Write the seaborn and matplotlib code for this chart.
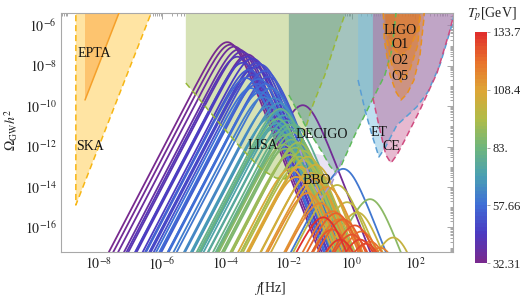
import numpy as np
import pandas as pd
import matplotlib
matplotlib.use("Agg")
import matplotlib.pyplot as plt
import seaborn as sns
from matplotlib.colors import LinearSegmentedColormap, Normalize
from matplotlib.ticker import LogLocator, NullFormatter

sns.set_theme(style="white")
plt.rcParams['font.family'] = ['Liberation Serif', 'DejaVu Serif']
plt.rcParams['mathtext.fontset'] = 'stix'

# ---------------------------------------------------------
# GW spectra: peak temperature, peak frequency, peak amplitude (log10)
# ---------------------------------------------------------
curve_tp = [33.0, 34.0, 36.0, 38.0, 35.5, 34.5,
            41.0, 42.5, 44.0, 45.5, 47.0, 48.5, 50.0, 51.5, 53.0, 54.5, 46.0, 52.0,
            49.0, 56.5, 58.0,
            56.0, 57.5, 59.0, 60.5, 62.0, 63.5, 65.0, 66.5, 60.0,
            68.0, 70.0, 72.0, 74.0, 76.0, 78.0, 69.0, 73.0, 75.0, 77.0,
            80.0, 82.0, 84.0, 86.0, 88.0, 90.0, 92.0, 94.0, 88.5,
            81.0, 85.0, 87.0, 91.0, 93.0,
            96.0, 98.0, 100.0, 102.0, 104.0, 97.0, 101.0, 99.0, 103.0, 105.0,
            106.0, 108.0, 110.0, 112.0, 114.0, 116.0, 118.0, 120.0, 117.0,
            109.0, 119.0, 121.0,
            123.0, 125.0, 127.0, 129.0, 131.0, 133.0, 126.0, 124.0, 128.0]
peak_logf = [-3.94, -3.84, -3.72, -3.58, -3.30, -1.55,
             -3.48, -3.62, -3.30, -3.14, -3.45, -3.00, -2.89, -3.25, -2.75, -3.35, -3.05, -2.64,
             -3.15, -2.95, -3.20,
             -3.00, -2.73, -2.90, -2.55, -2.80, -2.45, -2.62, -2.30, -0.27,
             -2.48, -2.22, -2.38, -2.08, -2.30, -1.98, -2.60, -2.15, -2.45, -1.85,
             -2.26, -2.35, -2.05, -1.90, -2.15, -1.78, -1.95, -1.65, 0.58,
             -2.00, -1.85, -2.10, -1.70, -1.55,
             -1.50, -0.46, -0.15, 1.31, -1.30, -1.75, 0.17, -1.40, -1.15, -1.00,
             -1.94, -1.63, -1.22, -0.78, -1.40, -1.00, -0.60, 0.58, 0.90,
             -1.75, -0.40, 0.30,
             -0.27, -0.62, 0.00, 0.26, -0.37, -0.90, 0.10, -0.50, 0.45]
peak_logom = [-6.83, -6.95, -7.05, -7.19, -7.44, -9.95,
              -7.30, -7.55, -7.55, -7.64, -7.85, -7.85, -7.94, -8.20, -8.25, -8.60, -8.05, -8.54,
              -8.45, -8.65, -9.10,
              -8.90, -8.89, -9.30, -9.10, -9.55, -9.60, -10.00, -9.85, -13.10,
              -10.35, -10.20, -10.85, -10.70, -11.30, -11.10, -10.60, -10.45, -11.10, -10.90,
              -10.13, -10.63, -11.40, -11.65, -11.90, -12.05, -12.40, -12.50, -14.60,
              -10.90, -11.30, -12.10, -11.80, -12.20,
              -12.70, -13.90, -14.75, -16.50, -13.30, -13.00, -15.25, -12.50, -12.90, -13.40,
              -13.10, -13.00, -13.60, -14.00, -14.30, -14.80, -15.20, -16.70, -17.00,
              -13.50, -15.60, -16.20,
              -15.60, -16.10, -16.35, -16.60, -16.60, -15.50, -15.90, -15.30, -16.80]

# ---------------------------------------------------------
# Detector sensitivity regions (log10 f, log10 Omega h^2)
# ---------------------------------------------------------
ska_logf = [-8.73, -8.73, -6.25]
ska_logom = [-5.0, -14.89, -5.0]
epta_logf = [-8.44, -8.44, -7.27]
epta_logom = [-5.0, -9.69, -5.0]
lisa_logf = [-5.25, -5.25, -4.33, -3.54, -2.84, -2.40, -2.11, -1.86, -1.58, -1.23, -0.85, -0.47, -0.12]
lisa_logom = [-5.0, -8.85, -10.58, -12.01, -13.15, -13.55, -13.60, -12.90, -11.67, -9.94, -8.45, -6.62, -5.0]
decigo_logf = [-1.99, -1.99, -1.48, -0.94, -0.69, -0.53, -0.34, 0.10, 0.73, 1.05, 1.27, 1.40, 1.42]
decigo_logom = [-5.0, -9.44, -10.93, -12.26, -12.96, -13.25, -12.96, -11.42, -9.44, -8.45, -7.21, -5.38, -5.0]
bbo_logf = [-1.64, -1.32, -0.97, -0.63, -0.31]
bbo_logom = [-12.16, -13.55, -14.54, -13.80, -12.66]
et_logf = [0.20, 0.20, 0.42, 0.64, 0.86, 1.05, 1.43, 1.68, 2.06, 2.41, 2.79, 3.17, 3.30]
et_logom = [-5.0, -8.70, -10.19, -11.42, -12.51, -12.07, -10.93, -10.58, -10.03, -9.29, -7.96, -5.98, -5.0]
ce_logf = [0.67, 0.67, 0.89, 1.08, 1.24, 1.43, 1.68, 2.16, 2.70, 3.11, 3.30]
ce_logom = [-5.0, -9.59, -11.17, -12.41, -12.81, -12.41, -11.67, -10.18, -8.35, -6.22, -5.0]
o5_logf = [0.99, 1.00, 1.03, 1.21, 1.40, 1.56, 1.75, 1.97, 2.16, 2.28, 2.30]
o5_logom = [-5.0, -5.4, -6.72, -8.45, -9.29, -9.69, -9.39, -8.70, -7.46, -5.73, -5.0]
o2_logf = [1.05, 1.11, 1.27, 1.56, 1.84, 2.09, 2.19]
o2_logom = [-5.0, -6.72, -7.96, -8.80, -8.20, -6.97, -5.0]
o1_logf = [1.02, 1.08, 1.30, 1.56, 1.84, 2.09, 2.22]
o1_logom = [-5.0, -6.22, -7.11, -7.51, -7.11, -6.22, -5.0]

cbar_ticks = [32.31, 57.66, 83.0, 108.4, 133.7]
cbar_labels = ["32.31", "57.66", "83.", "108.4", "133.7"]

# ---------------------------------------------------------
# build long table of spectra (sound-wave template)
# ---------------------------------------------------------
freqs = np.logspace(-10, 4, 500)
rows = []
for i, (tp, lf, lo) in enumerate(zip(curve_tp, peak_logf, peak_logom)):
    x = freqs / 10**lf
    om = 10**lo * x**3 * (7.0 / (4.0 + 3.0 * x**2))**3.5
    rows.append(pd.DataFrame({"f": freqs, "omega": om, "tp": tp, "curve": i}))
spectra = pd.concat(rows, ignore_index=True)

rainbow = LinearSegmentedColormap.from_list(
    "rainbow_m", ['#782a8f', '#4b3ac2', '#3f6fd6', '#4aa0b2', '#6fb67c',
                  '#b0bc48', '#dea636', '#e8722c', '#e0302c'], N=64)
tp_min, tp_max = 32.31, 133.7

fig = plt.figure(figsize=(5.2, 2.99), dpi=100)
ax = fig.add_axes([0.1173, 0.1582, 0.7548, 0.7973])
ax.set_xscale("log")
ax.set_yscale("log")

regions = [
    (ska_logf, ska_logom, '#ffe4a3', 1.0, '#f7b614', '--', 0),
    (epta_logf, epta_logom, '#fdc46f', 1.0, '#f5a02a', '-', 1),
    (lisa_logf, lisa_logom, '#d6e2b5', 1.0, '#98b83a', '--', 1),
    (decigo_logf, decigo_logom, '#689d93', 0.6, '#5fba5a', '--', 1),
    (bbo_logf, bbo_logom, '#c0b0e0', 0.35, '#a894d0', '--', 0),
    (et_logf, et_logom, '#7fc0e0', 0.5, '#5a9ed4', '--', 1),
    (ce_logf, ce_logom, '#c4508a', 0.4, '#d04c80', '--', 1),
    (o5_logf, o5_logom, '#e07820', 0.4, '#e8901f', '--', 1),
    (o2_logf, o2_logom, '#e07820', 0.4, '#e8901f', '--', 1),
    (o1_logf, o1_logom, '#e07820', 0.4, '#e8901f', '--', 1),
]
for lf, lo, fc, al, ec, ls, skip in regions:
    ff = 10**np.array(lf)
    oo = 10**np.array(lo)
    ax.fill(ff, oo, color=fc, alpha=al, lw=0, zorder=1)
    style = (0, (4, 2.5)) if ls == '--' else '-'
    ax.plot(ff[skip:], oo[skip:], color=ec, lw=1.1, ls=style, zorder=3)

sns.lineplot(data=spectra, x="f", y="omega", hue="tp", units="curve",
             estimator=None, palette=rainbow, hue_norm=(tp_min, tp_max),
             sort=False, legend=False, lw=1.3, ax=ax, zorder=2)

ax.set_xlim(10**-9.20, 10**3.22)
ax.set_ylim(10**-17.20, 10**-5.40)

# labels for detectors
lab = dict(fontsize=10, ha="center", va="center", zorder=5, color="#111111")
ax.text(10**-8.16, 10**-7.41, "EPTA", **lab)
ax.text(10**-8.28, 10**-12.01, "SKA", **lab)
ax.text(10**-2.81, 10**-11.92, "LISA", **lab)
ax.text(10**-0.94, 10**-11.42, "DECIGO", **lab)
ax.text(10**-1.10, 10**-13.70, "BBO", **lab)
ax.text(10**0.86, 10**-11.32, "ET", **lab)
ax.text(10**1.24, 10**-12.01, "CE", **lab)
ax.text(10**1.53, 10**-6.27, "LIGO", **lab)
ax.text(10**1.53, 10**-6.92, "O1", **lab)
ax.text(10**1.53, 10**-7.76, "O2", **lab)
ax.text(10**1.53, 10**-8.55, "O5", **lab)

# frame and ticks
for s in ax.spines.values():
    s.set_color('#a8a8a8')
    s.set_linewidth(0.8)
ax.set_xticks([10.0**k for k in range(-8, 3, 2)])
ax.set_xticklabels([r"$10^{%d}$" % k for k in range(-8, 3, 2)])
ax.set_yticks([10.0**k for k in range(-16, -5, 2)])
ax.set_yticklabels([r"$10^{%d}$" % k for k in range(-16, -5, 2)])
ax.xaxis.set_minor_locator(LogLocator(base=10, subs=np.arange(1, 10), numticks=40))
ax.yaxis.set_minor_locator(LogLocator(base=10, subs=np.arange(1, 10), numticks=40))
ax.xaxis.set_minor_formatter(NullFormatter())
ax.yaxis.set_minor_formatter(NullFormatter())
ax.tick_params(which="both", direction="in", top=True, right=True,
               color="#999999", width=0.6, labelsize=10, labelcolor="#222222", pad=3)
ax.tick_params(which="major", length=4.5)
ax.tick_params(which="minor", length=2.2)

ax.set_xlabel(r"$f$[Hz]", fontsize=10)
ax.set_ylabel(r"$\Omega_{\rm GW}h^2$", fontsize=10)
ax.xaxis.set_label_coords(0.532, -0.12)
ax.yaxis.set_label_coords(-0.105, 0.51)

# colorbar
cax = fig.add_axes([0.9135, 0.1204, 0.023, 0.7726])
sm = plt.cm.ScalarMappable(cmap=rainbow, norm=Normalize(tp_min, tp_max))
cb = fig.colorbar(sm, cax=cax)
cb.set_ticks(cbar_ticks)
cb.set_ticklabels(cbar_labels)
cb.outline.set_visible(False)
cax.tick_params(length=2, width=0.6, color="#999999", labelsize=9, pad=2, labelcolor="#222222")
fig.text(0.946, 0.953, r"$T_p$[GeV]", fontsize=10, ha="center", va="center")

fig.savefig("out.png", dpi=100)
